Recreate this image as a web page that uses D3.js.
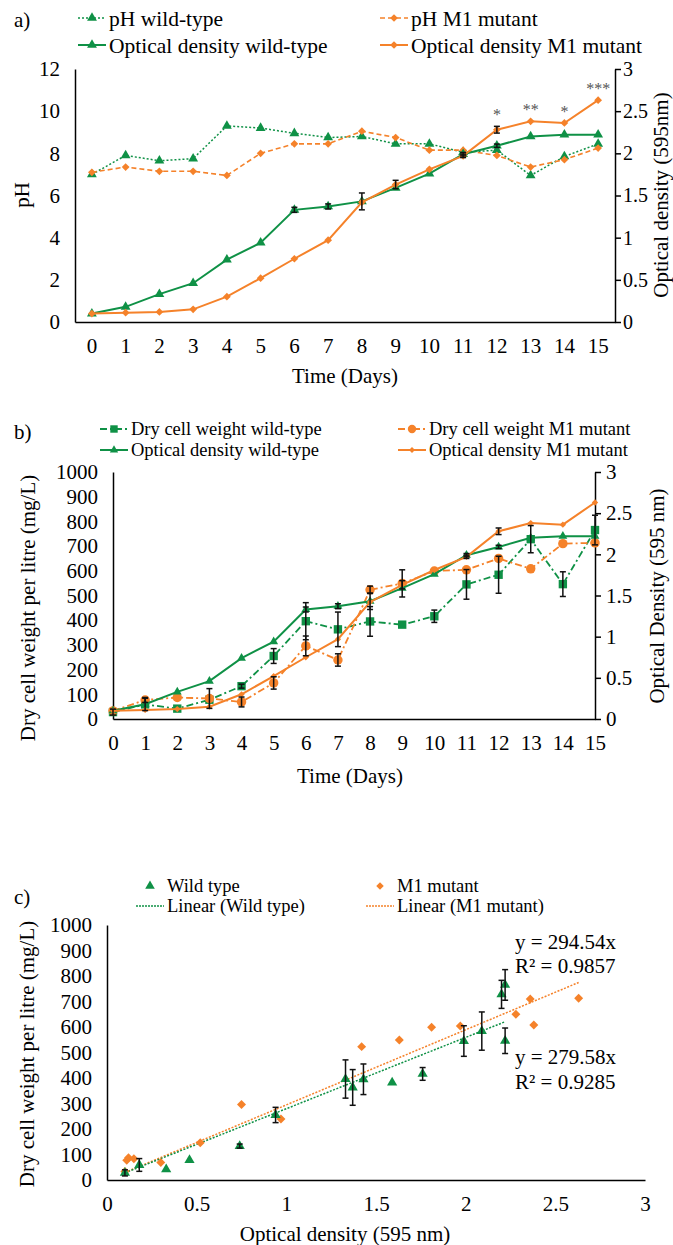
<!DOCTYPE html>
<html>
<head>
<meta charset="utf-8">
<script src="https://cdn.jsdelivr.net/npm/d3@7/dist/d3.min.js"></script>
<style>
    body { margin: 0; background: #fff; }
    svg text { font-family: 'Liberation Serif', 'Times New Roman', serif; fill: #000; }
</style>
</head>
<body>
<script>
// ---- data ----
const days = [0, 1, 2, 3, 4, 5, 6, 7, 8, 9, 10, 11, 12, 13, 14, 15];

const phWildType = [7.0, 7.9, 7.65, 7.75, 9.3, 9.2, 8.95, 8.75, 8.8, 8.45, 8.45, 8.05, 8.15, 6.95, 7.85, 8.45];
const phMutant = [7.1, 7.35, 7.15, 7.15, 6.95, 8.0, 8.45, 8.45, 9.05, 8.75, 8.15, 8.15, 7.9, 7.35, 7.7, 8.25];

const odWildType = [0.10, 0.18, 0.33, 0.46, 0.74, 0.94, 1.33, 1.37, 1.43, 1.59, 1.76, 1.99, 2.09, 2.20, 2.22, 2.22];
const odWildTypeErr = [0, 0, 0, 0, 0, 0, 0.03, 0.03, 0.1, 0, 0, 0.02, 0.02, 0, 0, 0];
const odMutant = [0.10, 0.11, 0.12, 0.15, 0.30, 0.52, 0.75, 0.97, 1.42, 1.63, 1.81, 1.97, 2.28, 2.38, 2.36, 2.63];
const odMutantErr = [0, 0, 0, 0, 0, 0, 0, 0, 0, 0.05, 0, 0.02, 0.04, 0, 0, 0];

const dcwWildType = [28, 59, 42, 78, 133, 255, 396, 363, 395, 382, 416, 545, 584, 728, 546, 765];
const dcwWildTypeErr = [12, 25, 0, 0, 8, 30, 75, 70, 60, 0, 25, 60, 75, 55, 50, 60];
const dcwMutant = [33, 77, 87, 83, 69, 146, 296, 239, 523, 549, 599, 604, 650, 608, 710, 713];
const dcwMutantErr = [0, 10, 0, 40, 20, 25, 40, 25, 15, 55, 0, 0, 0, 0, 0, 0];

const significance = ['', '', '', '', '', '', '', '', '', '', '', '', '*', '**', '*', '***'];

const slopeWildType = 279.58;
const slopeMutant = 294.54;
const r2WildType = 0.9285;
const r2Mutant = 0.9857;

const phTicks = [0, 2, 4, 6, 8, 10, 12];
const odTicks = [0, 0.5, 1, 1.5, 2, 2.5, 3];
const dcwTicks = [0, 100, 200, 300, 400, 500, 600, 700, 800, 900, 1000];
const odXTicks = [0, 0.5, 1, 1.5, 2, 2.5, 3];

const GREEN = '#0f9146';
const ORANGE = '#f5822a';
const FONT = 21;
const TICK_FONT = 21;

const svg = d3.select('body').append('svg')
    .attr('width', 673)
    .attr('height', 1245)
    .attr('font-family', "'Liberation Serif', 'Times New Roman', serif");

const symbols = {
    triangle: s => d3.symbol(d3.symbolTriangle, s)(),
    diamond: s => d3.symbol(d3.symbolSquare, s)(),
    square: s => d3.symbol(d3.symbolSquare, s)(),
    circle: s => d3.symbol(d3.symbolCircle, s)()
};

function addMarker(g, x, y, type, size, color) {
    g.append('path')
        .attr('d', symbols[type](size))
        .attr('transform', `translate(${x},${y})${type === 'diamond' ? ' rotate(45)' : ''}`)
        .attr('fill', color);
}

function series(g, xf, yf, values, opt) {
    const pts = values.map((v, i) => [xf(days[i]), yf(v)]);
    g.append('path')
        .attr('d', d3.line()(pts))
        .attr('fill', 'none')
        .attr('stroke', opt.color)
        .attr('stroke-width', opt.width || 2)
        .attr('stroke-dasharray', opt.dash || null);
    pts.forEach(([x, y]) => addMarker(g, x, y, opt.sym, opt.size, opt.color));
}

function errorBars(g, xs, yf, values, errs) {
    values.forEach((v, i) => {
        const e = errs[i];
        if (!e) return;
        const x = xs[i];
        const y0 = yf(v - e), y1 = yf(v + e);
        g.append('line').attr('x1', x).attr('x2', x).attr('y1', y0).attr('y2', y1);
        g.append('line').attr('x1', x - 3).attr('x2', x + 3).attr('y1', y0).attr('y2', y0);
        g.append('line').attr('x1', x - 3).attr('x2', x + 3).attr('y1', y1).attr('y2', y1);
    });
    g.attr('stroke', '#111').attr('stroke-width', 1.5);
}

function legend(items, fontSize) {
    items.forEach(it => {
        const g = svg.append('g').attr('transform', `translate(${it.x},${it.y})`);
        if (it.line !== false) {
            g.append('line')
                .attr('x1', 0).attr('x2', 28)
                .attr('stroke', it.color)
                .attr('stroke-width', it.width || 2)
                .attr('stroke-dasharray', it.dash || null);
        }
        if (it.sym) addMarker(g, 14, 0, it.sym, it.size, it.color);
        g.append('text')
            .attr('x', 31)
            .attr('dy', '0.35em')
            .style('font-size', fontSize + 'px')
            .text(it.label);
    });
}

function styleAxis(g, size) {
    g.attr('font-family', null);
    g.select('.domain').attr('stroke', '#000').attr('stroke-width', 1.5);
    g.selectAll('.tick line').attr('stroke', '#000').attr('stroke-width', 1.5);
    g.selectAll('text').style('font-size', size + 'px');
}

function label(x, y, str, size, rotate, anchor, dy) {
    svg.append('text')
        .attr('transform', `translate(${x},${y})${rotate ? ' rotate(-90)' : ''}`)
        .attr('text-anchor', anchor || 'middle')
        .attr('dy', dy === undefined ? '0.35em' : dy)
        .style('font-size', size + 'px')
        .text(str);
}

const fmt = d => String(d);

// ================= panel a =================
{
    const x = d3.scaleBand().domain(days).range([75, 615]);
    const cx = d => x(d) + x.bandwidth() / 2;
    const yPh = d3.scaleLinear().domain([0, 12]).range([322, 69]);
    const yOd = d3.scaleLinear().domain([0, 3]).range([322, 69]);

    styleAxis(svg.append('g').attr('transform', 'translate(75,0)')
        .call(d3.axisLeft(yPh).tickValues(phTicks).tickSize(0).tickPadding(15).tickFormat(fmt)), TICK_FONT);
    styleAxis(svg.append('g').attr('transform', 'translate(615,0)')
        .call(d3.axisRight(yOd).tickValues(odTicks).tickSize(6).tickSizeOuter(0).tickPadding(2).tickFormat(fmt)), 20);
    styleAxis(svg.append('g').attr('transform', 'translate(0,322)')
        .call(d3.axisBottom(x).tickSize(0).tickPadding(16)), TICK_FONT);

    const plot = svg.append('g');
    series(plot, cx, yPh, phWildType, { color: GREEN, width: 1.5, dash: '2,2', sym: 'triangle', size: 42 });
    series(plot, cx, yPh, phMutant, { color: ORANGE, width: 1.6, dash: '5,3', sym: 'diamond', size: 30 });
    series(plot, cx, yOd, odWildType, { color: GREEN, width: 2, sym: 'triangle', size: 42 });
    series(plot, cx, yOd, odMutant, { color: ORANGE, width: 2, sym: 'diamond', size: 30 });

    errorBars(svg.append('g'), days.map(cx), yOd, odWildType, odWildTypeErr);
    errorBars(svg.append('g'), days.map(cx), yOd, odMutant, odMutantErr);

    significance.forEach((s, i) => {
        if (!s) return;
        svg.append('text')
            .attr('x', cx(days[i]))
            .attr('y', yOd(odMutant[i] + odMutantErr[i]) - 6)
            .attr('text-anchor', 'middle')
            .style('font-size', '16px')
            .style('fill', '#555')
            .text(s);
    });

    label(14, 20, 'a)', FONT, false, 'start');
    label(22, 195, 'pH', FONT, true);
    label(668, 195, 'Optical density (595nm)', FONT, true, 'middle', 0);
    label(345, 376, 'Time (Days)', FONT);

    legend([
        { label: 'pH wild-type', color: GREEN, width: 1.5, dash: '2,2', sym: 'triangle', size: 42, x: 78, y: 18 },
        { label: 'pH M1 mutant', color: ORANGE, width: 1.6, dash: '5,3', sym: 'diamond', size: 30, x: 380, y: 18 },
        { label: 'Optical density wild-type', color: GREEN, sym: 'triangle', size: 42, x: 78, y: 45 },
        { label: 'Optical density M1 mutant', color: ORANGE, sym: 'diamond', size: 30, x: 380, y: 45 }
    ], 21.5);
}

// ================= panel b =================
{
    const x = d3.scalePoint().domain(days).range([113, 595]);
    const yDcw = d3.scaleLinear().domain([0, 1000]).range([719, 472]);
    const yOd = d3.scaleLinear().domain([0, 3]).range([719, 472]);

    styleAxis(svg.append('g').attr('transform', 'translate(113,0)')
        .call(d3.axisLeft(yDcw).tickValues(dcwTicks).tickSize(0).tickPadding(15).tickFormat(fmt)), TICK_FONT);
    styleAxis(svg.append('g').attr('transform', 'translate(595,0)')
        .call(d3.axisRight(yOd).tickValues(odTicks).tickSize(6).tickSizeOuter(0).tickPadding(5).tickFormat(fmt)), TICK_FONT);
    styleAxis(svg.append('g').attr('transform', 'translate(0,719)')
        .call(d3.axisBottom(x).tickSize(0).tickPadding(16)), TICK_FONT);

    const plot = svg.append('g');
    series(plot, x, yDcw, dcwWildType, { color: GREEN, width: 1.8, dash: '7,3,2,3', sym: 'square', size: 70 });
    series(plot, x, yDcw, dcwMutant, { color: ORANGE, width: 1.8, dash: '7,3,2,3', sym: 'circle', size: 70 });
    series(plot, x, yOd, odWildType, { color: GREEN, width: 2, sym: 'triangle', size: 34 });
    series(plot, x, yOd, odMutant, { color: ORANGE, width: 2, sym: 'diamond', size: 20 });

    errorBars(svg.append('g'), days.map(x), yDcw, dcwWildType, dcwWildTypeErr);
    errorBars(svg.append('g'), days.map(x), yDcw, dcwMutant, dcwMutantErr);
    errorBars(svg.append('g'), days.map(x), yOd, odWildType, odWildTypeErr);
    errorBars(svg.append('g'), days.map(x), yOd, odMutant, odMutantErr);

    label(14, 432, 'b)', FONT, false, 'start');
    label(28, 608, 'Dry cell weight  per litre (mg/L)', FONT, true);
    label(657, 596, 'Optical Density (595 nm)', FONT, true);
    label(350, 776, 'Time (Days)', FONT);

    legend([
        { label: 'Dry cell weight wild-type', color: GREEN, width: 1.8, dash: '7,3,2,3', sym: 'square', size: 55, x: 100, y: 429 },
        { label: 'Dry cell weight M1 mutant', color: ORANGE, width: 1.8, dash: '7,3,2,3', sym: 'circle', size: 55, x: 398, y: 429 },
        { label: 'Optical density wild-type', color: GREEN, sym: 'triangle', size: 30, x: 100, y: 450 },
        { label: 'Optical density M1 mutant', color: ORANGE, sym: 'diamond', size: 18, x: 398, y: 450 }
    ], 18.5);
}

// ================= panel c =================
{
    const x = d3.scaleLinear().domain([0, 3]).range([107, 645]);
    const y = d3.scaleLinear().domain([0, 1000]).range([1180, 925]);

    styleAxis(svg.append('g').attr('transform', 'translate(107,0)')
        .call(d3.axisLeft(y).tickValues(dcwTicks).tickSize(0).tickPadding(15).tickFormat(fmt)), TICK_FONT);
    styleAxis(svg.append('g').attr('transform', 'translate(0,1180)')
        .call(d3.axisBottom(x).tickValues(odXTicks).tickSize(0).tickPadding(16).tickFormat(fmt)), TICK_FONT);

    const plot = svg.append('g');
    const trend = (xs, slope, color) => {
        const lo = d3.min(xs), hi = d3.max(xs);
        plot.append('line')
            .attr('x1', x(lo)).attr('y1', y(slope * lo))
            .attr('x2', x(hi)).attr('y2', y(slope * hi))
            .attr('stroke', color)
            .attr('stroke-width', 1.5)
            .attr('stroke-dasharray', '2,1.5');
    };
    trend(odMutant, slopeMutant, ORANGE);
    trend(odWildType, slopeWildType, GREEN);

    odMutant.forEach((od, i) => addMarker(plot, x(od), y(dcwMutant[i]), 'diamond', 40, ORANGE));
    odWildType.forEach((od, i) => addMarker(plot, x(od), y(dcwWildType[i]), 'triangle', 45, GREEN));
    errorBars(svg.append('g'), odWildType.map(x), y, dcwWildType, dcwWildTypeErr);

    label(14, 897, 'c)', FONT, false, 'start');
    label(27, 1054, 'Dry cell weight  per litre  (mg/L)', FONT, true);
    label(345, 1234, 'Optical density (595 nm)', FONT);

    label(515, 942, `y = ${slopeMutant}x`, FONT, false, 'start');
    label(515, 966, `R² = ${r2Mutant}`, FONT, false, 'start');
    label(515, 1057, `y = ${slopeWildType}x`, FONT, false, 'start');
    label(515, 1082, `R² = ${r2WildType}`, FONT, false, 'start');

    legend([
        { label: 'Wild type', color: GREEN, line: false, sym: 'triangle', size: 40, x: 136, y: 886 },
        { label: 'M1 mutant', color: ORANGE, line: false, sym: 'diamond', size: 28, x: 366, y: 886 },
        { label: 'Linear (Wild type)', color: GREEN, width: 1.5, dash: '2,1', x: 136, y: 906 },
        { label: 'Linear (M1 mutant)', color: ORANGE, width: 1.5, dash: '2,1', x: 366, y: 906 }
    ], 18.5);
}
</script>
</body>
</html>
